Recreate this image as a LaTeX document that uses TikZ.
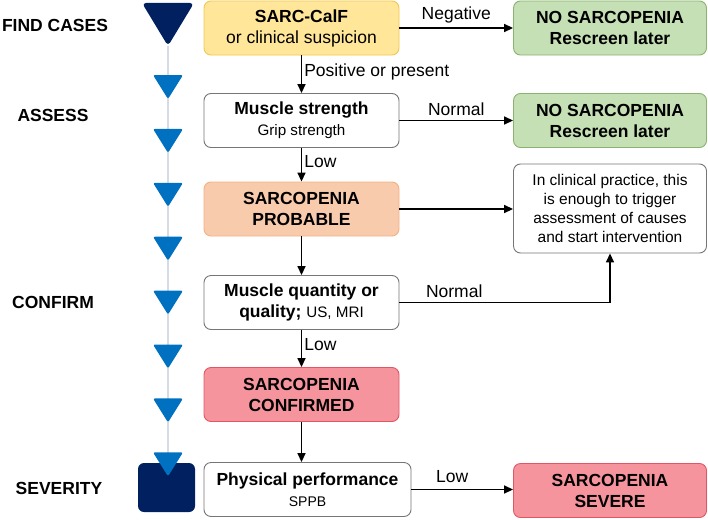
\documentclass[tikz,border=0pt]{standalone}
\usepackage{fontspec}
\setmainfont{Liberation Sans}
\usetikzlibrary{arrows.meta}

\definecolor{navyblue}{RGB}{0,32,96}
\definecolor{stepblue}{RGB}{0,112,192}
\definecolor{trackgray}{RGB}{214,220,228}
\definecolor{boxgray}{RGB}{118,118,118}
\definecolor{yelfill}{RGB}{255,230,153}
\definecolor{yeldraw}{RGB}{242,200,80}
\definecolor{grnfill}{RGB}{197,224,180}
\definecolor{grndraw}{RGB}{140,178,112}
\definecolor{orgfill}{RGB}{248,203,173}
\definecolor{orgdraw}{RGB}{244,177,131}
\definecolor{redfill}{RGB}{246,148,158}
\definecolor{reddraw}{RGB}{226,86,100}

\begin{document}
\begin{tikzpicture}[x=1pt,y=-1pt,
    box/.style={draw=boxgray, fill=white, rounded corners=7pt, line width=0.9pt,
      minimum width=195pt, minimum height=54pt, align=center, inner sep=2pt,
      font=\fontsize{17.5}{21}\selectfont},
    flow/.style={line width=1.6pt, -{Triangle[length=9pt,width=8pt]}},
    lbl/.style={font=\fontsize{17.5}{21}\selectfont, inner sep=2pt},
    stage/.style={font=\bfseries\fontsize{17.5}{21}\selectfont}]
    \useasboundingbox (0,0) rectangle (708,519);
    % left track
    \draw[trackgray, line width=1.5pt] (168,46) -- (168,463);
    \fill[navyblue, rounded corners=4pt] (142,3) -- (194,3) -- (168,46) -- cycle;
    \fill[navyblue, rounded corners=6pt] (138,463) rectangle (195,512);
    \foreach \i in {0,...,7} {
        \pgfmathsetmacro\t{75+53.9*\i}
        \fill[stepblue, rounded corners=2pt] (153,\t) -- (183,\t) -- (168,\t+24) -- cycle;
    }
    \node[stage] (find) at (55,25) {FIND CASES};
    \node[stage] (assess) at (53,115) {ASSESS};
    \node[stage] (confirm) at (53,302) {CONFIRM};
    \node[stage] (severity) at (59,488) {SEVERITY};
    % main column
    \node[box, fill=yelfill, draw=yeldraw] (sarc) at (301.5,28) {\textbf{SARC-CalF}\\or clinical suspicion};
    \node[box] (strength) at (301.5,120.5) {\textbf{Muscle strength}\\{\fontsize{15.2}{19}\selectfont Grip strength}};
    \node[box, fill=orgfill, draw=orgdraw] (probable) at (301.5,209) {\textbf{SARCOPENIA}\\\textbf{PROBABLE}};
    \node[box] (quantity) at (301.5,302.5) {\textbf{Muscle quantity or}\\\textbf{quality;} {\fontsize{15.2}{19}\selectfont US, MRI}};
    \node[box, fill=redfill, draw=reddraw] (confirmed) at (301.5,394.5) {\textbf{SARCOPENIA}\\\textbf{CONFIRMED}};
    \node[box, minimum width=207pt] (physical) at (307.5,489.5) {\textbf{Physical performance}\\{\fontsize{14}{17}\selectfont SPPB}};
    % right column
    \node[box, fill=grnfill, draw=grndraw, minimum width=193pt] (nosarc1) at (610,28) {\textbf{NO SARCOPENIA}\\\textbf{Rescreen later}};
    \node[box, fill=grnfill, draw=grndraw, minimum width=193pt] (nosarc2) at (610,120.5) {\textbf{NO SARCOPENIA}\\\textbf{Rescreen later}};
    \node[box, minimum width=193pt, minimum height=89pt, font=\fontsize{15.5}{19}\selectfont] (practice) at (610,208.5) {In clinical practice, this\\is enough to trigger\\assessment of causes\\and start intervention};
    \node[box, fill=redfill, draw=reddraw, minimum width=193pt] (severe) at (610,490.5) {\textbf{SARCOPENIA}\\\textbf{SEVERE}};
    % connectors
    \draw[flow] (sarc.south) -- node[lbl, right, pos=0.45] {Positive or present} (strength.north);
    \draw[flow] (strength.south) -- node[lbl, right, pos=0.4] {Low} (probable.north);
    \draw[flow] (probable.south) -- (quantity.north);
    \draw[flow] (quantity.south) -- node[lbl, right, pos=0.4] {Low} (confirmed.north);
    \draw[flow] (confirmed.south) -- (confirmed.south |- physical.north);
    \draw[flow] (sarc.east) -- node[lbl, above=2pt] {Negative} (nosarc1.west);
    \draw[flow] (strength.east) -- node[lbl, above=2pt] {Normal} (nosarc2.west);
    \draw[flow] (probable.east) -- (probable.east -| practice.west);
    \draw[flow] (quantity.east) -| node[lbl, above=2pt, pos=0.13] {Normal} (practice.south);
    \draw[flow] (physical.east) -- node[lbl, above=4pt, pos=0.4] {Low} (physical.east -| severe.west);
\end{tikzpicture}
\end{document}
